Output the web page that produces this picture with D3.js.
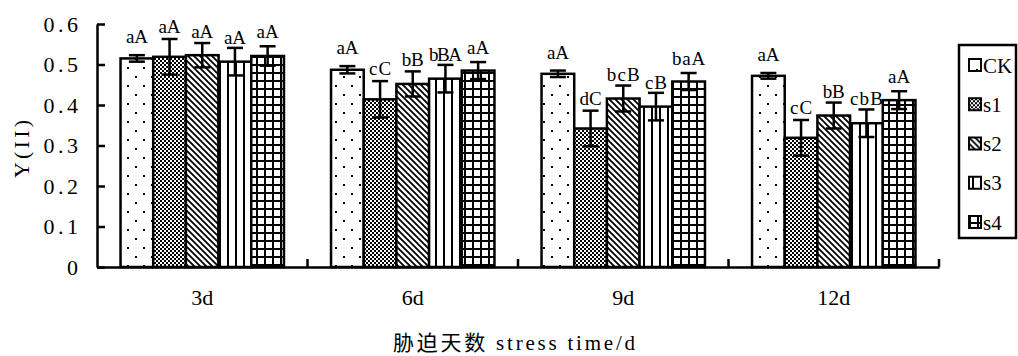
<!DOCTYPE html>
<html>
<head>
<meta charset="utf-8">
<script src="https://cdn.jsdelivr.net/npm/d3@7"></script>
<style>
  body { margin: 0; background: #fff; }
  svg { display: block; }
  text { font-family: "Liberation Serif", "Noto Sans CJK SC", serif; fill: #000; }
</style>
</head>
<body>
<svg id="chart" width="1018" height="356"></svg>
<script>
// data
const categories = ["3d", "6d", "9d", "12d"]
const series = ["CK", "s1", "s2", "s3", "s4"]
const ck = [0.515, 0.487, 0.477, 0.472]
const s1 = [0.519, 0.414, 0.342, 0.319]
const s2 = [0.523, 0.452, 0.416, 0.374]
const s3 = [0.507, 0.465, 0.396, 0.355]
const s4 = [0.521, 0.485, 0.458, 0.412]
const ckErr = [0.008, 0.009, 0.008, 0.007]
const s1Err = [0.044, 0.045, 0.044, 0.044]
const s2Err = [0.030, 0.031, 0.032, 0.032]
const s3Err = [0.034, 0.034, 0.034, 0.034]
const s4Err = [0.024, 0.021, 0.021, 0.022]
const ckSig = ["aA", "aA", "aA", "aA"]
const s1Sig = ["aA", "cC", "dC", "cC"]
const s2Sig = ["aA", "bB", "bcB", "bB"]
const s3Sig = ["aA", "bBA", "cB", "cbB"]
const s4Sig = ["aA", "aA", "baA", "aA"]
const yTicks = [0, 0.1, 0.2, 0.3, 0.4, 0.5, 0.6]

const values = [ck, s1, s2, s3, s4]
const errs = [ckErr, s1Err, s2Err, s3Err, s4Err]
const sigs = [ckSig, s1Sig, s2Sig, s3Sig, s4Sig]

const rows = []
categories.forEach((c, ci) => {
    series.forEach((s, si) => {
        rows.push({cat: c, ser: s, si: si, v: values[si][ci], e: errs[si][ci], sig: sigs[si][ci]})
    })
})

const svg = d3.select("#chart")

// simsun-ish widths: latin half em, cjk full em
function simWidth(str, half) {
    let w = 0
    for (const ch of str) w += ch.charCodeAt(0) > 255 ? half * 2 : half
    return w
}

// patterns
const defs = svg.append("defs")
function pat(id, w, h) {
    const p = defs.append("pattern").attr("id", id)
        .attr("patternUnits", "userSpaceOnUse").attr("width", w).attr("height", h)
    p.append("rect").attr("width", w).attr("height", h).attr("fill", "#fff")
    return p
}
let p = pat("pCK", 16, 18)
p.append("rect").attr("x", 7).attr("y", 4).attr("width", 2).attr("height", 2).attr("fill", "#000")
p.append("rect").attr("x", 15).attr("y", 13).attr("width", 2).attr("height", 2).attr("fill", "#000")
p.append("rect").attr("x", -1).attr("y", 13).attr("width", 2).attr("height", 2).attr("fill", "#000")
p = pat("pS1", 4, 4)
p.append("rect").attr("width", 2).attr("height", 2).attr("fill", "#000")
p.append("rect").attr("x", 2).attr("y", 2).attr("width", 2).attr("height", 2).attr("fill", "#000")
p = pat("pS2", 6, 6)
p.append("path").attr("d", "M-1,-1L7,7M-4,2L2,8M4,-2L8,2").attr("stroke", "#000").attr("stroke-width", 1.8)
p = pat("pS3", 8, 8)
p.append("rect").attr("x", 3).attr("width", 2).attr("height", 8).attr("fill", "#000")
p = pat("pS4", 8, 8)
p.append("rect").attr("x", 0).attr("width", 2).attr("height", 8).attr("fill", "#000")
p.append("rect").attr("y", 0).attr("width", 8).attr("height", 2).attr("fill", "#000")
const fills = ["url(#pCK)", "url(#pS1)", "url(#pS2)", "url(#pS3)", "url(#pS4)"]

// scales
const x0 = d3.scaleBand().domain(categories).range([97, 939]).padding(0)
const x1 = d3.scaleBand().domain(series).range([0, x0.bandwidth()]).paddingInner(0).paddingOuter(0.72)
const y = d3.scaleLinear().domain([0, 0.6]).range([267, 24])

// bars
const g = svg.append("g")
g.selectAll("rect.bar")
    .data(rows)
    .join("rect")
    .attr("class", "bar")
    .attr("x", d => x0(d.cat) + x1(d.ser))
    .attr("y", d => y(d.v))
    .attr("width", x1.bandwidth())
    .attr("height", d => y(0) - y(d.v))
    .attr("fill", d => fills[d.si])
    .attr("stroke", "#000")
    .attr("stroke-width", 2.5)

// error bars
const cap = 8
const eb = g.selectAll("g.err").data(rows).join("g").attr("class", "err")
    .attr("stroke", "#000").attr("stroke-width", 2.5)
eb.append("line")
    .attr("x1", d => x0(d.cat) + x1(d.ser) + x1.bandwidth() / 2)
    .attr("x2", d => x0(d.cat) + x1(d.ser) + x1.bandwidth() / 2)
    .attr("y1", d => y(d.v + d.e)).attr("y2", d => y(d.v - d.e))
eb.append("line")
    .attr("x1", d => x0(d.cat) + x1(d.ser) + x1.bandwidth() / 2 - cap)
    .attr("x2", d => x0(d.cat) + x1(d.ser) + x1.bandwidth() / 2 + cap)
    .attr("y1", d => y(d.v + d.e)).attr("y2", d => y(d.v + d.e))
eb.append("line")
    .attr("x1", d => x0(d.cat) + x1(d.ser) + x1.bandwidth() / 2 - cap)
    .attr("x2", d => x0(d.cat) + x1(d.ser) + x1.bandwidth() / 2 + cap)
    .attr("y1", d => y(d.v - d.e)).attr("y2", d => y(d.v - d.e))

// significance letters
const lift = [12, 6, 5, 4, 8]
g.selectAll("text.sig").data(rows).join("text")
    .attr("class", "sig")
    .attr("x", d => x0(d.cat) + x1(d.ser) + x1.bandwidth() / 2)
    .attr("y", d => y(d.v + d.e) - lift[d.si])
    .attr("text-anchor", "middle")
    .style("font-size", "19px")
    .attr("textLength", d => simWidth(d.sig, 11))
    .attr("lengthAdjust", "spacing")
    .text(d => d.sig)

// y axis
const yAxis = svg.append("g")
    .attr("transform", "translate(97,0)")
    .call(d3.axisLeft(y).tickValues(yTicks).tickFormat(d => d === 0 ? "0" : d3.format(".1f")(d))
        .tickSize(-8).tickSizeOuter(0).tickPadding(19))
yAxis.select(".domain").attr("stroke-width", 2.5)
yAxis.selectAll(".tick line").attr("stroke-width", 2.5)
yAxis.selectAll(".tick text")
    .attr("font-family", null)
    .style("font-size", "22px")
    .attr("dy", "0.34em")
    .attr("textLength", d => simWidth(d === 0 ? "0" : d3.format(".1f")(d), 11.5))
    .attr("lengthAdjust", "spacing")

// x axis
const xAxis = svg.append("g")
    .attr("transform", "translate(0,267)")
    .call(d3.axisBottom(x0).tickSize(0).tickPadding(30))
xAxis.select(".domain").attr("stroke-width", 2.5)
xAxis.selectAll(".tick text")
    .attr("font-family", null)
    .style("font-size", "22px")
    .attr("dy", "0.36em")
    .attr("textLength", d => simWidth(d, 11))
    .attr("lengthAdjust", "spacing")
// category boundary ticks (pointing up)
svg.append("g").selectAll("line")
    .data(categories)
    .join("line")
    .attr("x1", d => x0(d) + x0.bandwidth()).attr("x2", d => x0(d) + x0.bandwidth())
    .attr("y1", 267).attr("y2", 259)
    .attr("stroke", "#000").attr("stroke-width", 2.5)

// axis titles
const xTitle = "胁迫天数 stress time/d"
svg.append("text")
    .attr("x", (97 + 939) / 2 - 4).attr("y", 350)
    .attr("text-anchor", "middle")
    .style("font-size", "21px")
    .attr("textLength", simWidth(xTitle, 11))
    .attr("lengthAdjust", "spacing")
    .text(xTitle)

svg.append("text")
    .attr("transform", "translate(29,149) rotate(-90)")
    .attr("text-anchor", "middle")
    .style("font-size", "22px")
    .attr("textLength", 58)
    .attr("lengthAdjust", "spacing")
    .text("Y(II)")

// legend
const legend = svg.append("g")
legend.append("rect")
    .attr("x", 959).attr("y", 45).attr("width", 57).attr("height", 193)
    .attr("fill", "#fff").attr("stroke", "#000").attr("stroke-width", 2.5)
const ly = d3.scalePoint().domain(series).range([65, 222])
const li = legend.selectAll("g.item").data(series).join("g").attr("class", "item")
    .attr("transform", d => `translate(969,${ly(d)})`)
li.append("rect")
    .attr("x", 0).attr("y", -6).attr("width", 12).attr("height", 12)
    .attr("fill", (d, i) => fills[i]).attr("stroke", "#000").attr("stroke-width", 2)
li.append("text")
    .attr("x", 14).attr("y", 0).attr("dy", "0.36em")
    .style("font-size", "21px")
    .text(d => d)
</script>
</body>
</html>
